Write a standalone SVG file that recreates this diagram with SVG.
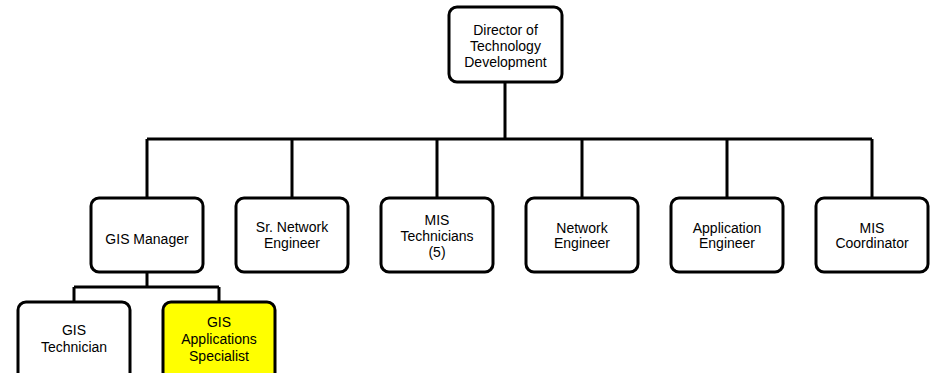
<svg xmlns="http://www.w3.org/2000/svg" width="930" height="373" viewBox="0 0 930 373">
<style>
.box{fill:#fff;stroke:#000;stroke-width:3}
.hl{fill:#ffff00;stroke:#000;stroke-width:3}
.ln{fill:none;stroke:#000;stroke-width:3}
text{font-family:"Liberation Sans",Arial,sans-serif;font-size:14px;fill:#000;text-anchor:middle}
</style>
<rect width="930" height="373" fill="#fff"/>
<g id="connectors">
<path class="ln" d="M505 82V139M147 139H872M147 139V198M292 139V198M437 139V198M582 139V198M727 139V198M872 139V198"/>
<path class="ln" d="M147 272V287M74 287H219M74 287V302M219 287V302"/>
</g>
<g id="director"><rect class="box" x="449" y="7" width="113" height="75" rx="8"/>
<text x="505.5" y="35">Director of</text><text x="505.5" y="51">Technology</text><text x="505.5" y="67">Development</text></g>
<g id="gis-manager"><rect class="box" x="91" y="198" width="112" height="74" rx="8"/>
<text x="147" y="244">GIS Manager</text></g>
<g id="sr-network-engineer"><rect class="box" x="236" y="198" width="112" height="74" rx="8"/>
<text x="292" y="232">Sr. Network</text><text x="292" y="248">Engineer</text></g>
<g id="mis-technicians"><rect class="box" x="381" y="198" width="112" height="74" rx="8"/>
<text x="437" y="225">MIS</text><text x="437" y="241">Technicians</text><text x="437" y="257">(5)</text></g>
<g id="network-engineer"><rect class="box" x="526" y="198" width="112" height="74" rx="8"/>
<text x="582" y="233">Network</text><text x="582" y="248">Engineer</text></g>
<g id="application-engineer"><rect class="box" x="671" y="198" width="112" height="74" rx="8"/>
<text x="727" y="233">Application</text><text x="727" y="248">Engineer</text></g>
<g id="mis-coordinator"><rect class="box" x="816" y="198" width="112" height="74" rx="8"/>
<text x="872" y="233">MIS</text><text x="872" y="248">Coordinator</text></g>
<g id="gis-technician"><rect class="box" x="18" y="302" width="112" height="85" rx="8"/>
<text x="74" y="335">GIS</text><text x="74" y="352">Technician</text></g>
<g id="gis-applications-specialist"><rect class="hl" x="163" y="302" width="112" height="85" rx="8"/>
<text x="219" y="327">GIS</text><text x="219" y="344">Applications</text><text x="219" y="361">Specialist</text></g>
</svg>
